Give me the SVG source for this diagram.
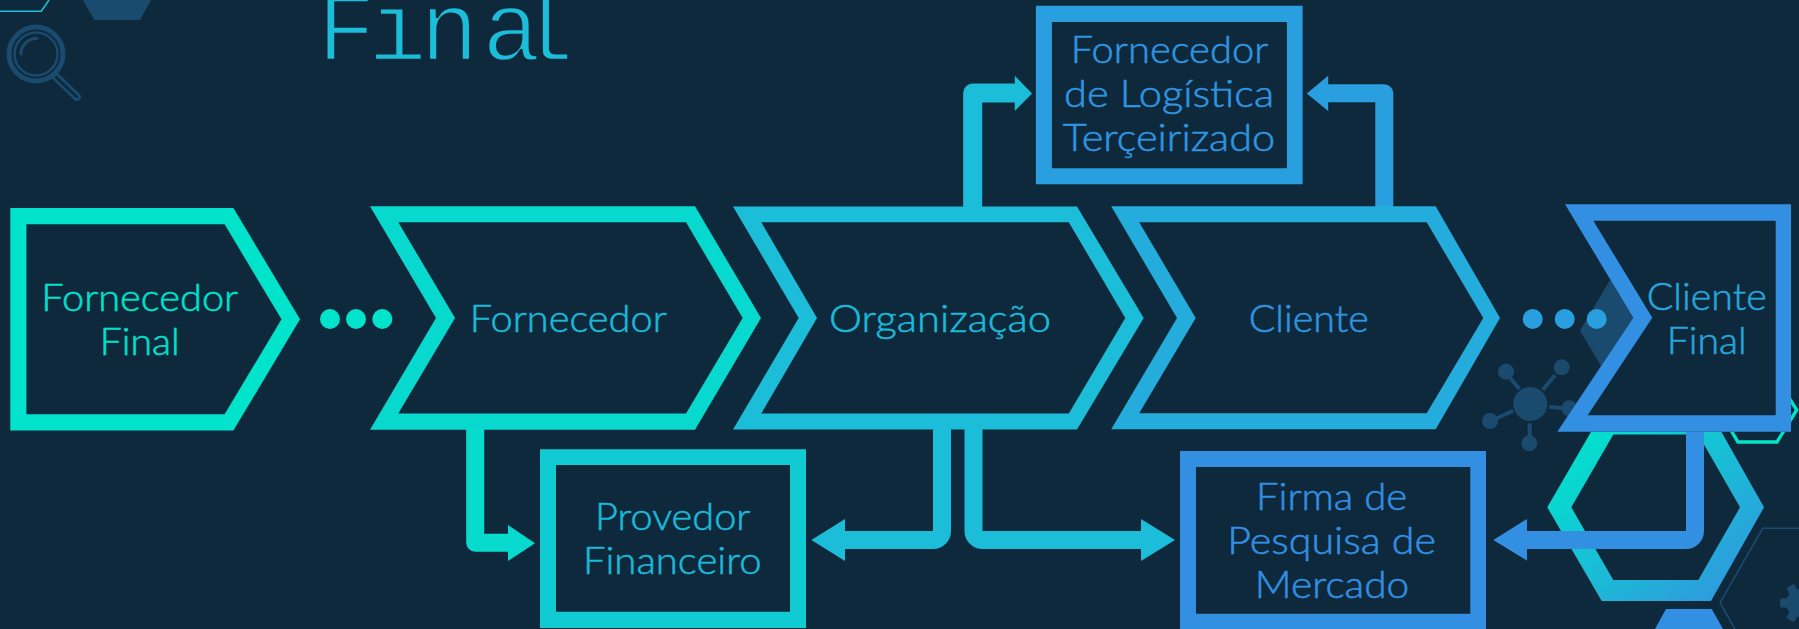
<svg xmlns="http://www.w3.org/2000/svg" width="1799" height="629" viewBox="0 0 1799 629">
<defs>
<linearGradient id="hexGrad" x1="0.1" y1="0.1" x2="1" y2="1"><stop offset="0" stop-color="#00e5cc"/><stop offset="1" stop-color="#3590e0"/></linearGradient>
</defs>
<style>
.lbl{font-family:"Lato","Noto Sans",sans-serif;font-weight:300;font-size:38px;text-anchor:middle;stroke-width:.55px}
.faint{fill:#1a4a6e}
.line{fill:none;stroke:#1a4a6e}
.conn{fill:none;stroke-linejoin:round}
.c1{fill:#01e3cb}.c2{fill:#08d9cf}.c3{fill:#1bbdd8}.c4{fill:#24acdc}.c5{fill:#338fe1}.c6{fill:#10ccd2}.c7{fill:#2a9fdf}
.s2{stroke:#06dbcd}.s3{stroke:#1bbdd8}.s5{stroke:#338fe1}.s7{stroke:#2a9fdf}
.t1{fill:#01e0cc;stroke:#01e0cc}.t2{fill:#1bb9d8;stroke:#1bb9d8}.t3{fill:#2f95e0;stroke:#2f95e0}.t4{fill:#28a5dd;stroke:#28a5dd}.t5{fill:#338fe1;stroke:#338fe1}
.bg{fill:#0e293c}
</style>
<rect id="background" width="1799" height="629" fill="#0e293c"/>
<g id="decor">
<path d="M0,11.3H41.3L49,0" fill="none" stroke="#1bbdd8" stroke-width="1.6"/>
<polygon class="faint" points="82.7,0 94.3,20 140,20 151,0"/>
<g id="magnifier">
<circle class="line" cx="36" cy="54" r="27" stroke-width="5"/>
<circle class="line" cx="36" cy="54" r="21.5" stroke-width="2.5"/>
<path class="line" d="M37,38.5A15.5,15.5 0 0 0 21,54" stroke-width="3" stroke-linecap="round"/>
<path class="line" d="M55,76L77,97" stroke-width="8" stroke-linecap="round"/>
<path d="M56,77L77,97" fill="none" stroke="#0e293c" stroke-width="2.5" stroke-linecap="round"/>
</g>
<polygon class="faint" points="1580,330.7 1610,280 1660,280 1660,381 1610,381"/>
<g id="network">
<circle class="faint" cx="1530.3" cy="404" r="17"/>
<circle class="faint" cx="1506" cy="371.7" r="8"/>
<circle class="faint" cx="1561.7" cy="367.3" r="8"/>
<circle class="faint" cx="1490" cy="421" r="8"/>
<circle class="faint" cx="1529.3" cy="443.3" r="8"/>
<circle class="faint" cx="1569.3" cy="408.3" r="8"/>
<path class="line" stroke-width="4" d="M1519.3,389L1510,377.7M1542.7,390L1555,375M1513.3,410.7L1496.7,418.3M1529.7,423.3V436.7M1549.3,406.7L1563,408.3"/>
</g>
<polygon points="1719,410 1738,378.5 1777,378.5 1796.7,410 1777,442 1738,442" fill="none" stroke="#02e3c8" stroke-width="3.4"/>
<path fill-rule="evenodd" fill="url(#hexGrad)" d="M1601.7,413.6H1711L1764,507.3L1711,601H1601.7L1547.3,507.3ZM1613.3,434.6L1571.3,507.3L1613.3,580H1698.3L1740,507.3L1698.3,434.6Z"/>
<polygon class="c5" points="1666,609 1711.7,609 1723,629 1655,629"/>
<path class="line" stroke-width="1.6" d="M1799,528.3H1762.7L1720,602.7L1735,629"/>
<g id="gear" class="faint">
<circle cx="1800" cy="603" r="14"/>
<rect x="1780" y="598.5" width="12" height="9" rx="2"/>
<rect x="1780" y="598.5" width="12" height="9" rx="2" transform="rotate(60 1800 603)"/>
<rect x="1780" y="598.5" width="12" height="9" rx="2" transform="rotate(-60 1800 603)"/>
</g>
</g>
<g id="connectors">
<g id="conn-fornecedor-provedor"><path class="conn s2" stroke-width="18" d="M475.2,428V542.7H510"/><polygon class="c2" points="508,525 535,543.3 508,561"/></g>
<g id="conn-organizacao-provedor"><path class="conn s3" stroke-width="18" d="M942,428V531A9,9 0 0 1 933,540H843"/><polygon class="c3" points="845,519 811.4,540 845,561"/></g>
<g id="conn-organizacao-firma"><path class="conn s3" stroke-width="18" d="M973.5,428V531A9,9 0 0 0 982.5,540H1143"/><polygon class="c3" points="1141,519 1175,540 1141,561"/></g>
<g id="conn-organizacao-logistica"><path class="conn s3" stroke-width="19" d="M972.7,208V93H1016"/><polygon class="c3" points="1014.8,75.7 1032,93.5 1014.8,111"/></g>
<g id="conn-cliente-logistica"><path class="conn s7" stroke-width="18" d="M1384.3,208V93.3H1326"/><polygon class="c7" points="1328.2,75.7 1306.8,93.5 1328.2,111"/></g>
<g id="conn-final-firma"><path class="conn s5" stroke-width="18" d="M1695,430V531A9,9 0 0 1 1686,540H1525"/><polygon class="c5" points="1527,519 1493.3,540 1527,560.7"/></g>
</g>
<g id="node-fornecedor-final">
<polygon class="bg" points="10.3,208 233.4,208 300,319.3 233.4,430.6 10.3,430.6"/>
<path class="c1" fill-rule="evenodd" d="M10.3,208H233.4L300,319.3L233.4,430.6H10.3ZM26.4,224.3V414.3H224.6L281.5,319.3L224.6,224.3Z"/>
<text class="lbl t1" x="139.7" y="311" textLength="197" lengthAdjust="spacingAndGlyphs">Fornecedor</text>
<text class="lbl t1" x="139.7" y="355" textLength="80" lengthAdjust="spacingAndGlyphs">Final</text>
</g>
<g id="dots-left" class="c1"><circle cx="330" cy="319" r="10"/><circle cx="356" cy="319" r="10"/><circle cx="382.3" cy="319" r="10"/></g>
<g id="node-fornecedor">
<path class="c2" fill-rule="evenodd" d="M370,206.3H695L761,318L695,429.7H370L436,318ZM398.3,222.3L455,318L398.3,413.5H686L742.7,318L686,222.3Z"/>
<text class="lbl t2" x="568.3" y="331.7" textLength="197" lengthAdjust="spacingAndGlyphs">Fornecedor</text>
</g>
<g id="node-organizacao">
<path class="c3" fill-rule="evenodd" d="M733,206.5H1077L1143.7,318L1077,429.5H733L798.7,318ZM761.3,222.3L817,318L761.3,413.5H1068.8L1125.3,318L1068.8,222.3Z"/>
<text class="lbl t2" x="940" y="331.7" textLength="222" lengthAdjust="spacingAndGlyphs">Organização</text>
</g>
<g id="node-cliente">
<path class="c4" fill-rule="evenodd" d="M1111.2,206.3H1435.7L1500,318L1435.7,429.3H1111.2L1177,318ZM1139.2,222.3L1195.7,318L1139.2,413.3H1426.7L1483.3,318L1426.7,222.3Z"/>
<text class="lbl t3" x="1308.7" y="332" textLength="120" lengthAdjust="spacingAndGlyphs">Cliente</text>
</g>
<g id="dots-right" class="c7"><circle cx="1532.7" cy="319" r="10"/><circle cx="1564.7" cy="319" r="10"/><circle cx="1596.7" cy="319" r="10"/></g>
<g id="node-cliente-final">
<polygon class="bg" points="1565,204.3 1791,204.3 1791,431.7 1557.3,431.7 1633.3,317.7"/>
<path class="c5" fill-rule="evenodd" d="M1565,204.3H1791V431.7H1557.3L1633.3,317.7ZM1593.3,220.7L1652.3,317.7L1587.7,415.3H1775.7V220.7Z"/>
<text class="lbl t4" x="1706.7" y="310" textLength="120" lengthAdjust="spacingAndGlyphs">Cliente</text>
<text class="lbl t4" x="1706.7" y="354" textLength="80" lengthAdjust="spacingAndGlyphs">Final</text>
</g>
<g id="node-logistica">
<path class="c7" fill-rule="evenodd" d="M1035.9,5.7H1302.6V184.3H1035.9ZM1051.9,22V168.3H1286.9V22Z"/>
<text class="lbl t3" x="1169.5" y="62.7" textLength="197.5" lengthAdjust="spacingAndGlyphs">Fornecedor</text>
<text class="lbl t3" x="1169" y="106.7" textLength="210" lengthAdjust="spacingAndGlyphs">de Logística</text>
<text class="lbl t3" x="1169" y="151" textLength="212.4" lengthAdjust="spacingAndGlyphs">Terçeirizado</text>
</g>
<g id="node-provedor">
<path class="c6" fill-rule="evenodd" d="M540,449.3H806V628H540ZM556,465V611.7H790V465Z"/>
<text class="lbl t2" x="672.7" y="530" textLength="155.4" lengthAdjust="spacingAndGlyphs">Provedor</text>
<text class="lbl t2" x="672.3" y="574" textLength="178.7" lengthAdjust="spacingAndGlyphs">Financeiro</text>
</g>
<g id="node-firma">
<path class="c5" fill-rule="evenodd" d="M1180,451H1486V631H1180ZM1196,467V613.7H1470.3V467Z"/>
<text class="lbl t5" x="1331.6" y="510" textLength="151.3" lengthAdjust="spacingAndGlyphs">Firma de</text>
<text class="lbl t5" x="1331.6" y="554" textLength="208.7" lengthAdjust="spacingAndGlyphs">Pesquisa de</text>
<text class="lbl t5" x="1332" y="598.3" textLength="154.3" lengthAdjust="spacingAndGlyphs">Mercado</text>
</g>
<text id="title" x="317 368 420 482 515" y="60" font-family="'Liberation Mono',monospace" font-size="98" fill="#1bbdd8" stroke="#0e293c" stroke-width="2.5" paint-order="fill stroke">Final</text>
</svg>
